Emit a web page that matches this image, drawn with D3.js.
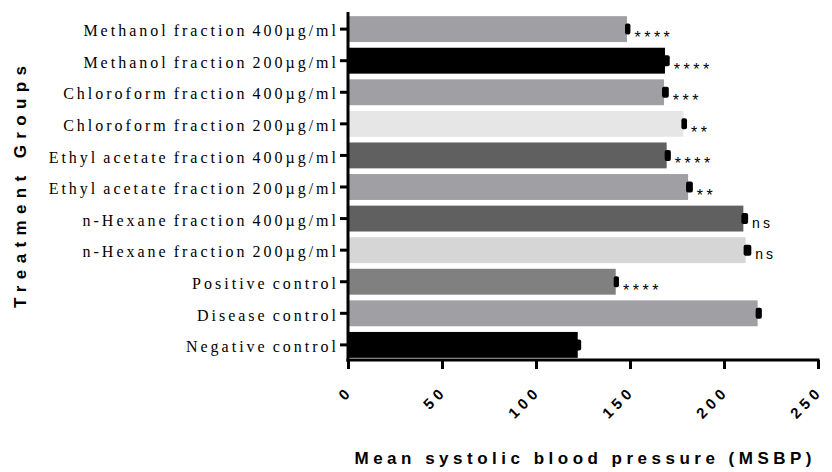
<!DOCTYPE html>
<html>
<head>
<meta charset="utf-8">
<script src="https://cdn.jsdelivr.net/npm/d3@7"></script>
<style>
  body { margin: 0; background: #fff; }
  svg { display: block; }
</style>
</head>
<body>
<div id="chart"></div>
<script>
// datos (de arriba hacia abajo)
const categories = [
    "Methanol fraction 400\u00b5g/ml",
    "Methanol fraction 200\u00b5g/ml",
    "Chloroform fraction 400\u00b5g/ml",
    "Chloroform fraction 200\u00b5g/ml",
    "Ethyl acetate fraction 400\u00b5g/ml",
    "Ethyl acetate fraction 200\u00b5g/ml",
    "n-Hexane fraction 400\u00b5g/ml",
    "n-Hexane fraction 200\u00b5g/ml",
    "Positive control",
    "Disease control",
    "Negative control",
];
const meanValues = [148.4, 168.6, 168.1, 178.4, 169.5, 180.9, 210.3, 211.5, 142.4, 217.9, 122.2];
const semValues = [1.3, 2.0, 2.0, 1.4, 1.7, 2.0, 2.0, 2.5, 1.2, 1.7, 1.3];
const significance = ["****", "****", "***", "**", "****", "**", "ns", "ns", "****", "", ""];
const barColors = ["#a09fa4", "#000000", "#a09fa4", "#e6e6e6", "#606060", "#a09fa4",
                   "#606060", "#d6d6d6", "#808080", "#a09fa4", "#000000"];
const xTicks = [0, 50, 100, 150, 200, 250];

const WIDTH = 832;
const HEIGHT = 472;
const MARGIN = { top: 13, right: 14, bottom: 111, left: 348 };

const SERIF = "'Liberation Serif', 'Times New Roman', serif";
const SANS = "'Liberation Sans', Arial, sans-serif";

const svg = d3.select("#chart").append("svg")
    .attr("width", WIDTH)
    .attr("height", HEIGHT);

const x = d3.scaleLinear()
    .domain([0, 250])
    .range([MARGIN.left, WIDTH - MARGIN.right]);

const y = d3.scaleBand()
    .domain(categories)
    .range([MARGIN.top, HEIGHT - MARGIN.bottom])
    .paddingInner(0.18)
    .paddingOuter(0.1);

// barras
svg.append("g")
    .selectAll("rect")
    .data(categories)
    .join("rect")
    .attr("x", x(0))
    .attr("y", d => y(d))
    .attr("width", (d, i) => x(meanValues[i]) - x(0))
    .attr("height", y.bandwidth())
    .attr("fill", (d, i) => barColors[i]);

// barras de error (SEM)
svg.append("g")
    .selectAll("rect")
    .data(categories)
    .join("rect")
    .attr("x", (d, i) => x(meanValues[i]) - 2)
    .attr("y", d => y(d) + y.bandwidth() / 2 - 5.5)
    .attr("width", (d, i) => x(meanValues[i] + semValues[i]) - x(meanValues[i]) + 3)
    .attr("height", 11)
    .attr("rx", 2)
    .attr("fill", "#000");

// significancia (asteriscos y ns)
svg.append("g")
    .selectAll("text")
    .data(categories)
    .join("text")
    .attr("x", (d, i) => x(meanValues[i] + semValues[i]) + 5)
    .attr("y", (d, i) => y(d) + y.bandwidth() / 2 + (significance[i] === "ns" ? 9 : 14))
    .attr("font-family", SANS)
    .attr("font-size", (d, i) => significance[i] === "ns" ? 14 : 16)
    .attr("letter-spacing", (d, i) => significance[i] === "ns" ? 3 : 3.5)
    .attr("fill", "#000")
    .text((d, i) => significance[i]);

// eje Y
const ejeY = d3.axisLeft(y).tickSize(8).tickPadding(1);
const gy = svg.append("g")
    .attr("transform", `translate(${x(0)},0)`)
    .call(ejeY);
gy.select(".domain")
    .attr("d", `M0,${MARGIN.top - 1}V${HEIGHT - MARGIN.bottom + 1}`)
    .attr("stroke", "#000")
    .attr("stroke-width", 3);
gy.selectAll(".tick line").attr("stroke", "#000").attr("stroke-width", 3);
gy.selectAll(".tick text")
    .attr("font-family", SERIF)
    .attr("font-size", 16)
    .attr("letter-spacing", 3)
    .attr("word-spacing", -2)
    .attr("fill", "#000")
    .attr("dy", "0.45em");

// eje X
const ejeX = d3.axisBottom(x).tickValues(xTicks).tickSize(9).tickFormat(d3.format("d"));
const gx = svg.append("g")
    .attr("transform", `translate(0,${HEIGHT - MARGIN.bottom - 1})`)
    .call(ejeX);
gx.select(".domain")
    .attr("d", `M${x(0) - 1.5},0H${x(250) + 1.5}`)
    .attr("stroke", "#000")
    .attr("stroke-width", 3);
gx.selectAll(".tick line").attr("stroke", "#000").attr("stroke-width", 3);
gx.selectAll(".tick text")
    .attr("font-family", SANS)
    .attr("font-weight", "bold")
    .attr("font-size", 15)
    .attr("letter-spacing", 4.5)
    .attr("fill", "#000")
    .attr("text-anchor", "end")
    .attr("y", 0)
    .attr("dy", "0.4em")
    .attr("transform", "translate(1,28) rotate(-45)");

// titulos
svg.append("text")
    .attr("x", (x(0) + x(250)) / 2)
    .attr("y", 464)
    .attr("text-anchor", "middle")
    .attr("font-family", SANS)
    .attr("font-weight", "bold")
    .attr("font-size", 17)
    .attr("textLength", 457)
    .attr("lengthAdjust", "spacing")
    .text("Mean systolic blood pressure (MSBP)");

svg.append("text")
    .attr("transform", `translate(26,${(y.range()[0] + y.range()[1]) / 2}) rotate(-90)`)
    .attr("text-anchor", "middle")
    .attr("font-family", SANS)
    .attr("font-weight", "bold")
    .attr("font-size", 17)
    .attr("textLength", 242)
    .attr("lengthAdjust", "spacing")
    .text("Treatment Groups");
</script>
</body>
</html>
